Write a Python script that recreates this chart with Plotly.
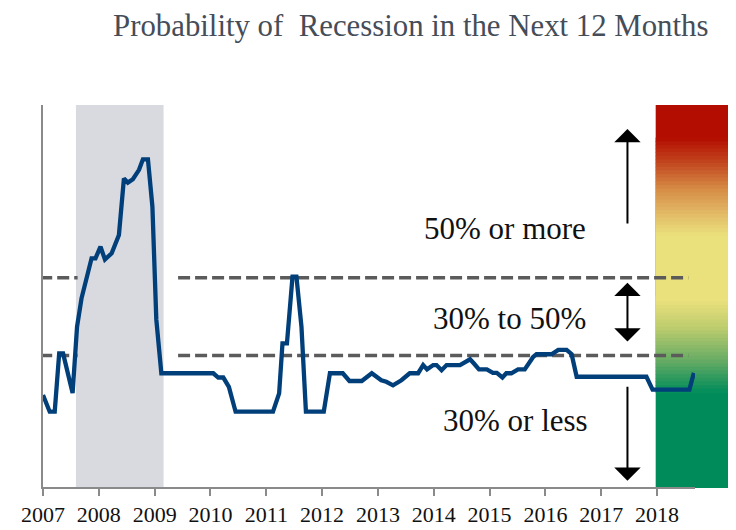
import plotly.graph_objects as go

# ---- data ----
years = [2007.00, 2007.12, 2007.21, 2007.29, 2007.36, 2007.53, 2007.61, 2007.69, 2007.87, 2007.94,
         2008.03, 2008.11, 2008.23, 2008.36, 2008.45, 2008.52, 2008.61, 2008.72, 2008.79, 2008.88,
         2008.96, 2009.03, 2009.12, 2010.05, 2010.14, 2010.23, 2010.33, 2010.45, 2011.12, 2011.23,
         2011.29, 2011.37, 2011.47, 2011.54, 2011.63, 2011.71, 2012.03, 2012.14, 2012.37, 2012.49,
         2012.71, 2012.89, 2013.06, 2013.15, 2013.27, 2013.42, 2013.57, 2013.72, 2013.81, 2013.88,
         2013.99, 2014.05, 2014.14, 2014.23, 2014.47, 2014.65, 2014.72, 2014.81, 2014.95, 2015.06,
         2015.13, 2015.23, 2015.30, 2015.39, 2015.51, 2015.63, 2015.78, 2015.84, 2016.11, 2016.23,
         2016.38, 2016.47, 2016.56, 2017.81, 2017.92, 2018.58, 2018.66]
prob = [19.8, 15.5, 15.5, 30.5, 30.5, 20.3, 37.4, 44.7, 55.0, 55.0,
        58.0, 54.7, 56.3, 61.0, 75.6, 74.5, 75.4, 77.8, 80.5, 80.5,
        68.3, 39.2, 25.4, 25.4, 24.3, 24.3, 21.9, 15.5, 15.5, 20.2,
        33.1, 33.1, 50.3, 50.3, 37.4, 15.5, 15.5, 25.4, 25.4, 23.4,
        23.4, 25.4, 23.6, 23.2, 22.3, 23.6, 25.4, 25.4, 27.5, 26.4,
        27.5, 27.5, 26.2, 27.5, 27.5, 29.0, 27.9, 26.4, 26.4, 25.5,
        25.5, 24.3, 25.4, 25.4, 26.4, 26.4, 29.6, 30.3, 30.3, 31.4,
        31.4, 30.3, 24.5, 24.5, 21.2, 21.2, 25.5]

recession = [2007.59, 2009.16]
thresholds = [30, 50]
threshold_segments = [[2006.95, 2007.62], [2009.42, 2018.56]]
tick_years = list(range(2007, 2019))
zone_labels = ["50% or more", "30% to 50%", "30% or less"]
zone_label_x = [2015.28, 2015.36, 2015.47]
zone_label_y = [62.8, 39.6, 13.3]
# arrows: (x, tail y, tip y, two-sided)
arrows = [(2017.47, 63.6, 88.3, False), (2017.47, 33.2, 48.7, True), (2017.47, 22.3, -2.3, False)]

# gradient stops (fraction from top, rgb)
grad_stops = [(0.00, (179, 12, 0)), (0.085, (179, 12, 0)), (0.15, (194, 70, 30)),
              (0.22, (214, 140, 70)), (0.27, (224, 176, 96)), (0.34, (234, 224, 124)),
              (0.51, (234, 224, 124)), (0.58, (190, 205, 110)), (0.67, (100, 170, 100)),
              (0.75, (0, 140, 90)), (1.00, (0, 140, 90))]

SERIF = "Liberation Serif, Times New Roman, DejaVu Serif, serif"

fig = go.Figure()

shapes = []
# recession shading
shapes.append(dict(type="rect", xref="x", yref="paper", x0=recession[0], x1=recession[1],
                   y0=0, y1=1, fillcolor="#D9DAE0", line=dict(width=0), layer="below"))

# gradient bar
def interp(f):
    for (f0, c0), (f1, c1) in zip(grad_stops[:-1], grad_stops[1:]):
        if f0 <= f <= f1:
            t = 0 if f1 == f0 else (f - f0) / (f1 - f0)
            return tuple(round(a + (b - a) * t) for a, b in zip(c0, c1))
    return grad_stops[-1][1]

gx0, gx1 = 0.9397, 1.052
gy_top, gy_bot = 1.0, -0.0026
span = gy_top - gy_bot
def fy(f):
    return gy_top - span * f

# solid base blocks
shapes.append(dict(type="rect", xref="paper", yref="paper", x0=gx0, x1=gx1, y0=fy(0.5), y1=fy(0.0),
                   fillcolor="rgb(179,12,0)", line=dict(width=0), layer="below"))
shapes.append(dict(type="rect", xref="paper", yref="paper", x0=gx0, x1=gx1, y0=fy(1.0), y1=fy(0.5),
                   fillcolor="rgb(0,140,90)", line=dict(width=0), layer="below"))
f_start, f_end = 0.085, 0.75
n = 70
for i in range(n):
    a = f_start + (f_end - f_start) * i / n
    b = f_start + (f_end - f_start) * (i + 1) / n
    c = interp((a + b) / 2)
    shapes.append(dict(type="rect", xref="paper", yref="paper", x0=gx0, x1=gx1,
                       y0=fy(b) - 0.002, y1=fy(a),
                       fillcolor="rgb(%d,%d,%d)" % c, line=dict(width=0), layer="below"))

# threshold dashed lines
for th in thresholds:
    for seg in threshold_segments:
        fig.add_trace(go.Scatter(x=seg, y=[th, th], mode="lines",
                                 line=dict(color="#5B5B5B", width=3.5, dash="12px,5px"),
                                 hoverinfo="skip", showlegend=False))

fig.add_trace(go.Scatter(x=years, y=prob, mode="lines",
                         line=dict(color="#003F7A", width=4.3),
                         showlegend=False))

annotations = []
for t, x, y in zip(zone_labels, zone_label_x, zone_label_y):
    annotations.append(dict(text=t, x=x, y=y, xref="x", yref="y", showarrow=False,
                            font=dict(family=SERIF, size=31, color="#111111")))
for x, y0, y1, both in arrows:
    annotations.append(dict(text="", x=x, y=y1, ax=x, ay=y0, xref="x", yref="y",
                            axref="x", ayref="y", showarrow=True, arrowhead=1,
                            startarrowhead=1, arrowside="end+start" if both else "end",
                            arrowsize=2.2, startarrowsize=2.2, arrowwidth=2, arrowcolor="#000000"))

fig.update_layout(
    width=728, height=522,
    margin=dict(l=35, r=41, t=97, b=43, autoexpand=False),
    paper_bgcolor="white", plot_bgcolor="rgba(0,0,0,0)",
    title=dict(text="Probability of  Recession in the Next 12 Months",
               font=dict(family=SERIF, size=30.8, color="#454D58"),
               xref="paper", x=0.564, xanchor="center", y=0.9674, yanchor="middle"),
    shapes=shapes, annotations=annotations,
    xaxis=dict(range=[2007, 2018.68], tickvals=tick_years, ticktext=[str(y) for y in tick_years],
               showgrid=False, zeroline=False, showline=True, linecolor="#8A8A8A", linewidth=1.5,
               ticks="outside", ticklen=7, tickwidth=1.5, tickcolor="#8A8A8A", automargin=False,
               tickfont=dict(family=SERIF, size=22, color="#111111")),
    yaxis=dict(range=[-3.9, 94.5], showgrid=False, zeroline=False, showline=True, automargin=False,
               linecolor="#8A8A8A", linewidth=1.5, showticklabels=False, ticks=""),
)

fig.write_html("out.html")
